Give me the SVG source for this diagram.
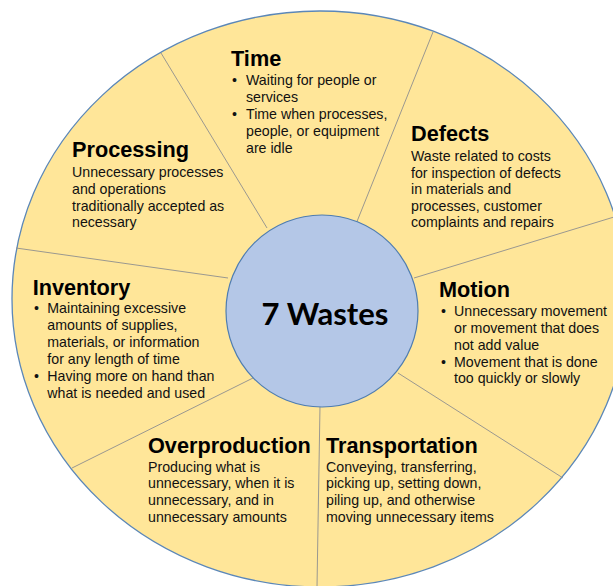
<svg xmlns="http://www.w3.org/2000/svg" width="613" height="586" viewBox="0 0 613 586">
<style>
.wheel{fill:#FFE699;stroke:#5B87B8;stroke-width:1.3}
.hub{fill:#B4C7E7;stroke:#4F7DB0;stroke-width:1.2}
.div{stroke:#8E8E8E;stroke-width:0.9;fill:none}
.t{font-family:"Liberation Sans",Arial,sans-serif;font-weight:bold;font-size:21.7px;fill:#000}
.b{font-family:"Liberation Sans",Arial,sans-serif;font-size:14.2px;fill:#111}
.hubt{font-family:Lato,"Open Sans",sans-serif;font-weight:bold;font-size:31px;fill:#000}
</style>
<rect width="613" height="586" fill="#fff"/>
<g id="wheel"><ellipse class="wheel" cx="320" cy="299" rx="308" ry="288"/></g>
<g id="connectors">
<line class="div" x1="161" y1="53" x2="267" y2="228"/>
<line class="div" x1="433" y1="32" x2="356" y2="224"/>
<line class="div" x1="614" y1="217" x2="414" y2="278"/>
<line class="div" x1="398" y1="373" x2="563" y2="478"/>
<line class="div" x1="320" y1="406" x2="317" y2="587"/>
<line class="div" x1="72" y1="468" x2="253" y2="378"/>
<line class="div" x1="16" y1="248" x2="228" y2="278"/>
</g>
<g id="center">
<circle class="hub" cx="322" cy="311" r="96"/>
<text class="hubt" x="325" y="325" text-anchor="middle">7 Wastes</text>
</g>
<g id="time">
<text class="t" x="231" y="66">Time</text>
<text class="b" x="232" y="85">•</text><text class="b" x="246" y="85">Waiting for people or</text>
<text class="b" x="246" y="102">services</text>
<text class="b" x="232" y="119">•</text><text class="b" x="246" y="119">Time when processes,</text>
<text class="b" x="246" y="136">people, or equipment</text>
<text class="b" x="246" y="153">are idle</text>
</g>
<g id="processing">
<text class="t" x="72" y="157">Processing</text>
<text class="b" x="72" y="177">Unnecessary processes</text>
<text class="b" x="72" y="194">and operations</text>
<text class="b" x="72" y="210.5">traditionally accepted as</text>
<text class="b" x="72" y="227">necessary</text>
</g>
<g id="defects">
<text class="t" x="411" y="141">Defects</text>
<text class="b" x="411" y="161">Waste related to costs</text>
<text class="b" x="411" y="177.5">for inspection of defects</text>
<text class="b" x="411" y="194">in materials and</text>
<text class="b" x="411" y="210.5">processes, customer</text>
<text class="b" x="411" y="227">complaints and repairs</text>
</g>
<g id="motion">
<text class="t" x="439" y="297">Motion</text>
<text class="b" x="441" y="316">•</text><text class="b" x="454" y="316">Unnecessary movement</text>
<text class="b" x="454" y="333">or movement that does</text>
<text class="b" x="454" y="349.5">not add value</text>
<text class="b" x="441" y="366.5">•</text><text class="b" x="454" y="366.5">Movement that is done</text>
<text class="b" x="454" y="383">too quickly or slowly</text>
</g>
<g id="inventory">
<text class="t" x="32.7" y="295">Inventory</text>
<text class="b" x="34" y="313.3">•</text><text class="b" x="47.3" y="313.3">Maintaining excessive</text>
<text class="b" x="47.3" y="330">amounts of supplies,</text>
<text class="b" x="47.3" y="346.7">materials, or information</text>
<text class="b" x="47.3" y="364">for any length of time</text>
<text class="b" x="34" y="381">•</text><text class="b" x="47.3" y="381">Having more on hand than</text>
<text class="b" x="47.3" y="397.7">what is needed and used</text>
</g>
<g id="overproduction">
<text class="t" x="148" y="453">Overproduction</text>
<text class="b" x="148" y="471.7">Producing what is</text>
<text class="b" x="148" y="488.3">unnecessary, when it is</text>
<text class="b" x="148" y="505">unnecessary, and in</text>
<text class="b" x="148" y="521.7">unnecessary amounts</text>
</g>
<g id="transportation">
<text class="t" x="326" y="453">Transportation</text>
<text class="b" x="326" y="471.7">Conveying, transferring,</text>
<text class="b" x="326" y="488.3">picking up, setting down,</text>
<text class="b" x="326" y="505">piling up, and otherwise</text>
<text class="b" x="326" y="521.7">moving unnecessary items</text>
</g>
</svg>
